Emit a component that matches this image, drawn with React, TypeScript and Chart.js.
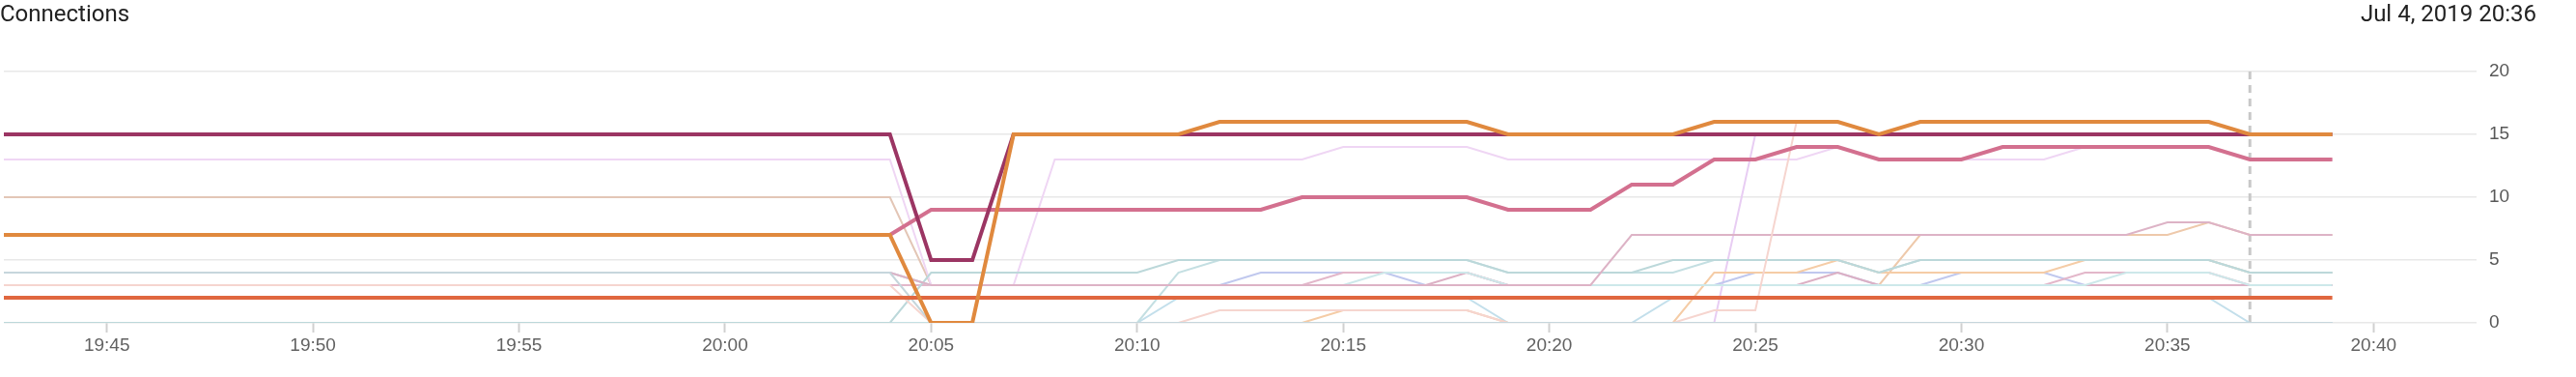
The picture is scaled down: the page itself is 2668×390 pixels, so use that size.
import React, { useEffect, useRef } from 'react';
import { Chart, registerables } from 'chart.js';

Chart.register(...registerables);

const title = 'Connections';
const stamp = 'Jul 4, 2019 20:36';
const cursorTime = '20:37';
const axisStart = '19:42:30';
const axisEnd = '20:42:30';

const times = [
  '19:42', '19:43', '19:44', '19:45', '19:46', '19:47', '19:48', '19:49', '19:50', '19:51',
  '19:52', '19:53', '19:54', '19:55', '19:56', '19:57', '19:58', '19:59', '20:00', '20:01',
  '20:02', '20:03', '20:04', '20:05', '20:06', '20:07', '20:08', '20:09', '20:10', '20:11',
  '20:12', '20:13', '20:14', '20:15', '20:16', '20:17', '20:18', '20:19', '20:20', '20:21',
  '20:22', '20:23', '20:24', '20:25', '20:26', '20:27', '20:28', '20:29', '20:30', '20:31',
  '20:32', '20:33', '20:34', '20:35', '20:36', '20:37', '20:38', '20:39',
];

const xTickLabels = ['19:45', '19:50', '19:55', '20:00', '20:05', '20:10', '20:15', '20:20', '20:25', '20:30', '20:35', '20:40'];
const yTickValues = [0, 5, 10, 15, 20];

const maroon = [
  15, 15, 15, 15, 15, 15, 15, 15, 15, 15,
  15, 15, 15, 15, 15, 15, 15, 15, 15, 15,
  15, 15, 15, 5, 5, 15, 15, 15, 15, 15,
  15, 15, 15, 15, 15, 15, 15, 15, 15, 15,
  15, 15, 15, 15, 15, 15, 15, 15, 15, 15,
  15, 15, 15, 15, 15, 15, 15, 15,
];
const orange = [
  7, 7, 7, 7, 7, 7, 7, 7, 7, 7,
  7, 7, 7, 7, 7, 7, 7, 7, 7, 7,
  7, 7, 7, 0, 0, 15, 15, 15, 15, 15,
  16, 16, 16, 16, 16, 16, 16, 15, 15, 15,
  15, 15, 16, 16, 16, 16, 15, 16, 16, 16,
  16, 16, 16, 16, 16, 15, 15, 15,
];
const pink = [
  7, 7, 7, 7, 7, 7, 7, 7, 7, 7,
  7, 7, 7, 7, 7, 7, 7, 7, 7, 7,
  7, 7, 7, 9, 9, 9, 9, 9, 9, 9,
  9, 9, 10, 10, 10, 10, 10, 9, 9, 9,
  11, 11, 13, 13, 14, 14, 13, 13, 13, 14,
  14, 14, 14, 14, 14, 13, 13, 13,
];
const orangeRed = [
  2, 2, 2, 2, 2, 2, 2, 2, 2, 2,
  2, 2, 2, 2, 2, 2, 2, 2, 2, 2,
  2, 2, 2, 2, 2, 2, 2, 2, 2, 2,
  2, 2, 2, 2, 2, 2, 2, 2, 2, 2,
  2, 2, 2, 2, 2, 2, 2, 2, 2, 2,
  2, 2, 2, 2, 2, 2, 2, 2,
];
const blueGrey = [
  4, 4, 4, 4, 4, 4, 4, 4, 4, 4,
  4, 4, 4, 4, 4, 4, 4, 4, 4, 4,
  4, 4, 4, 0, 0, 0, 0, 0, 0, 0,
  0, 0, 0, 0, 0, 0, 0, 0, 0, 0,
  0, 0, 0, 0, 0, 0, 0, 0, 0, 0,
  0, 0, 0, 0, 0, 0, 0, 0,
];
const peach = [
  3, 3, 3, 3, 3, 3, 3, 3, 3, 3,
  3, 3, 3, 3, 3, 3, 3, 3, 3, 3,
  3, 3, 3, 0, 0, 0, 0, 0, 0, 0,
  1, 1, 1, 1, 1, 1, 1, 0, 0, 0,
  0, 0, 1, 1, 16, 16, 15, 16, 16, 16,
  16, 16, 16, 16, 16, 15, 15, 15,
];
const mauveA = [
  4, 4, 4, 4, 4, 4, 4, 4, 4, 4,
  4, 4, 4, 4, 4, 4, 4, 4, 4, 4,
  4, 4, 4, 3, 3, 3, 3, 3, 3, 3,
  3, 3, 3, 3, 3, 3, 3, 3, 3, 3,
  7, 7, 7, 7, 7, 7, 7, 7, 7, 7,
  7, 7, 7, 8, 8, 7, 7, 7,
];
const teal = [
  0, 0, 0, 0, 0, 0, 0, 0, 0, 0,
  0, 0, 0, 0, 0, 0, 0, 0, 0, 0,
  0, 0, 0, 4, 4, 4, 4, 4, 4, 5,
  5, 5, 5, 5, 5, 5, 5, 4, 4, 4,
  4, 5, 5, 5, 5, 5, 4, 5, 5, 5,
  5, 5, 5, 5, 5, 4, 4, 4,
];
const tealB = [
  0, 0, 0, 0, 0, 0, 0, 0, 0, 0,
  0, 0, 0, 0, 0, 0, 0, 0, 0, 0,
  0, 0, 0, 0, 0, 0, 0, 0, 0, 4,
  5, 5, 5, 5, 5, 5, 5, 4, 4, 4,
  4, 4, 5, 5, 5, 5, 4, 5, 5, 5,
  5, 5, 5, 5, 5, 4, 4, 4,
];
const lightTeal = [
  4, 4, 4, 4, 4, 4, 4, 4, 4, 4,
  4, 4, 4, 4, 4, 4, 4, 4, 4, 4,
  4, 4, 4, 3, 3, 3, 3, 3, 3, 3,
  3, 3, 3, 3, 4, 4, 4, 3, 3, 3,
  3, 3, 3, 3, 3, 3, 3, 3, 3, 3,
  3, 3, 4, 4, 4, 3, 3, 3,
];
const lightOrange = [
  0, 0, 0, 0, 0, 0, 0, 0, 0, 0,
  0, 0, 0, 0, 0, 0, 0, 0, 0, 0,
  0, 0, 0, 0, 0, 0, 0, 0, 0, 0,
  0, 0, 0, 1, 1, 1, 1, 0, 0, 0,
  0, 0, 4, 4, 4, 5, 4, 4, 4, 4,
  4, 5, 5, 5, 5, 4, 4, 4,
];
const lavender = [
  13, 13, 13, 13, 13, 13, 13, 13, 13, 13,
  13, 13, 13, 13, 13, 13, 13, 13, 13, 13,
  13, 13, 13, 3, 3, 3, 13, 13, 13, 13,
  13, 13, 13, 14, 14, 14, 14, 13, 13, 13,
  13, 13, 13, 13, 13, 14, 13, 13, 13, 13,
  13, 14, 14, 14, 14, 13, 13, 13,
];
const mauveB = [
  3, 3, 3, 3, 3, 3, 3, 3, 3, 3,
  3, 3, 3, 3, 3, 3, 3, 3, 3, 3,
  3, 3, 3, 3, 3, 3, 3, 3, 3, 3,
  3, 3, 3, 4, 4, 4, 4, 3, 3, 3,
  3, 3, 3, 3, 3, 3, 3, 3, 3, 3,
  3, 4, 4, 4, 4, 3, 3, 3,
];
const mauveC = [
  3, 3, 3, 3, 3, 3, 3, 3, 3, 3,
  3, 3, 3, 3, 3, 3, 3, 3, 3, 3,
  3, 3, 3, 3, 3, 3, 3, 3, 3, 3,
  3, 3, 3, 3, 3, 3, 4, 3, 3, 3,
  3, 3, 3, 3, 3, 4, 3, 3, 3, 3,
  3, 3, 3, 3, 3, 3, 3, 3,
];
const blueViolet = [
  4, 4, 4, 4, 4, 4, 4, 4, 4, 4,
  4, 4, 4, 4, 4, 4, 4, 4, 4, 4,
  4, 4, 4, 3, 3, 3, 3, 3, 3, 3,
  3, 4, 4, 4, 4, 3, 3, 3, 3, 3,
  3, 3, 3, 4, 4, 4, 3, 3, 4, 4,
  4, 3, 3, 3, 3, 3, 3, 3,
];
const tanB = [
  3, 3, 3, 3, 3, 3, 3, 3, 3, 3,
  3, 3, 3, 3, 3, 3, 3, 3, 3, 3,
  3, 3, 3, 3, 3, 3, 3, 3, 3, 3,
  3, 3, 3, 3, 3, 3, 3, 3, 3, 3,
  3, 3, 3, 3, 3, 3, 3, 7, 7, 7,
  7, 7, 7, 7, 8, 7, 7, 7,
];
const tan = [
  10, 10, 10, 10, 10, 10, 10, 10, 10, 10,
  10, 10, 10, 10, 10, 10, 10, 10, 10, 10,
  10, 10, 10, 3, 3, 3, 3, 3, 3, 3,
  3, 3, 3, 3, 3, 3, 3, 3, 3, 3,
  3, 3, 3, 3, 3, 3, 3, 3, 3, 3,
  3, 3, 3, 3, 3, 3, 3, 3,
];
const lavenderB = [
  0, 0, 0, 0, 0, 0, 0, 0, 0, 0,
  0, 0, 0, 0, 0, 0, 0, 0, 0, 0,
  0, 0, 0, 0, 0, 0, 0, 0, 0, 0,
  0, 0, 0, 0, 0, 0, 0, 0, 0, 0,
  0, 0, 0, 15, 15, 15, 15, 15, 15, 15,
  15, 15, 15, 15, 15, 15, 15, 15,
];
const lightBlue = [
  0, 0, 0, 0, 0, 0, 0, 0, 0, 0,
  0, 0, 0, 0, 0, 0, 0, 0, 0, 0,
  0, 0, 0, 0, 0, 0, 0, 0, 0, 2,
  2, 2, 2, 2, 2, 2, 2, 0, 0, 0,
  0, 2, 2, 2, 2, 2, 2, 2, 2, 2,
  2, 2, 2, 2, 2, 0, 0, 0,
];
const baseline = [
  0, 0, 0, 0, 0, 0, 0, 0, 0, 0,
  0, 0, 0, 0, 0, 0, 0, 0, 0, 0,
  0, 0, 0, 0, 0, 0, 0, 0, 0, 0,
  0, 0, 0, 0, 0, 0, 0, 0, 0, 0,
  0, 0, 0, 0, 0, 0, 0, 0, 0, 0,
  0, 0, 0, 0, 0, 0, 0, 0,
];

// first entry is drawn on top
const series = [
  { name: 'orange', values: orange, color: '#e0893e', width: 4 },
  { name: 'maroon', values: maroon, color: '#9b3563', width: 4 },
  { name: 'pink', values: pink, color: '#d3708f', width: 4 },
  { name: 'orangeRed', values: orangeRed, color: '#e0673f', width: 4 },
  { name: 'blueGrey', values: blueGrey, color: '#c6d6dc', width: 2 },
  { name: 'peach', values: peach, color: '#f6d5cf', width: 2 },
  { name: 'mauveA', values: mauveA, color: '#ddb3c6', width: 2 },
  { name: 'teal', values: teal, color: '#bcd8da', width: 2 },
  { name: 'tealB', values: tealB, color: '#c4dfe2', width: 2 },
  { name: 'lightTeal', values: lightTeal, color: '#cde8ea', width: 2 },
  { name: 'lightOrange', values: lightOrange, color: '#f5cca6', width: 2 },
  { name: 'lavender', values: lavender, color: '#efd6f4', width: 2 },
  { name: 'mauveB', values: mauveB, color: '#e3b7ca', width: 2 },
  { name: 'mauveC', values: mauveC, color: '#dcb0c4', width: 2 },
  { name: 'blueViolet', values: blueViolet, color: '#c0c8ee', width: 2 },
  { name: 'tanB', values: tanB, color: '#eec9ab', width: 2 },
  { name: 'tan', values: tan, color: '#e3c6b6', width: 2 },
  { name: 'lavenderB', values: lavenderB, color: '#e8cdf3', width: 2 },
  { name: 'lightBlue', values: lightBlue, color: '#c3dfeb', width: 2 },
  { name: 'baseline', values: baseline, color: '#b8ccd4', width: 2 },
];

const toMin = (s: string) => {
  const p = s.split(':').map(Number);
  return p[0] * 60 + p[1] + (p[2] || 0) / 60;
};
const fmt = (v: number) => {
  const h = Math.floor(v / 60);
  const m = Math.round(v - h * 60);
  return `${h}:${m < 10 ? '0' : ''}${m}`;
};

const tickFont = { family: "'Liberation Sans', Arial, sans-serif", size: 19 };

const cursorPlugin = {
  id: 'cursorLine',
  beforeDatasetsDraw(chart: any) {
    const { ctx, chartArea, scales } = chart;
    const x = scales.x.getPixelForValue(toMin(cursorTime));
    ctx.save();
    ctx.strokeStyle = '#c8c8c8';
    ctx.lineWidth = 3;
    ctx.setLineDash([8, 6]);
    ctx.beginPath();
    ctx.moveTo(x, chartArea.top);
    ctx.lineTo(x, chartArea.bottom);
    ctx.stroke();
    ctx.restore();
  },
};

export default function App() {
  const ref = useRef<HTMLCanvasElement | null>(null);
  useEffect(() => {
    if (!ref.current) return;
    const chart = new Chart(ref.current, {
      type: 'line',
      data: {
        datasets: series.map((s) => ({
          label: s.name,
          data: s.values.map((v, i) => ({ x: toMin(times[i]), y: v })),
          borderColor: s.color,
          backgroundColor: s.color,
          borderWidth: s.width,
          pointRadius: 0,
          tension: 0,
          fill: false,
        })),
      },
      options: {
        animation: false,
        responsive: false,
        maintainAspectRatio: false,
        layout: { padding: { left: 4, top: 74, right: 0, bottom: 0 } },
        plugins: { legend: { display: false }, tooltip: { enabled: false }, title: { display: false } },
        scales: {
          x: {
            type: 'linear',
            min: toMin(axisStart),
            max: toMin(axisEnd),
            afterBuildTicks: (scale: any) => {
              scale.ticks = xTickLabels.map((l) => ({ value: toMin(l) }));
            },
            afterFit: (scale: any) => {
              scale.height = 56;
            },
            ticks: {
              callback: (v: any) => fmt(Number(v)),
              color: '#626262',
              font: tickFont,
              padding: 2,
              maxRotation: 0,
              autoSkip: false,
            },
            grid: {
              drawOnChartArea: false,
              drawTicks: true,
              tickLength: 10,
              tickWidth: 2,
              tickColor: '#d0d0d0',
            },
            border: { display: false },
          },
          y: {
            position: 'right',
            min: 0,
            max: 20,
            afterBuildTicks: (scale: any) => {
              scale.ticks = yTickValues.map((v) => ({ value: v }));
            },
            afterFit: (scale: any) => {
              scale.width = 103;
            },
            ticks: {
              color: '#585858',
              font: tickFont,
              padding: 13,
            },
            grid: {
              color: '#e8e8e8',
              lineWidth: 1.5,
              drawTicks: false,
            },
            border: { display: false },
          },
        },
      },
      plugins: [cursorPlugin],
    } as any);
    return () => chart.destroy();
  }, []);

  const textStyle: React.CSSProperties = {
    position: 'absolute',
    top: 0,
    fontFamily: 'Roboto, sans-serif',
    fontSize: 24,
    lineHeight: '28.8px',
    color: '#222',
    whiteSpace: 'nowrap',
  };

  return (
    <div style={{ position: 'absolute', left: 0, top: 0, width: 2668, height: 390, background: '#fff' }}>
      <canvas ref={ref} width={2668} height={390} style={{ display: 'block', width: 2668, height: 390 }} />
      <div style={{ ...textStyle, left: 0 }}>{title}</div>
      <div style={{ ...textStyle, right: 41 }}>{stamp}</div>
    </div>
  );
}
